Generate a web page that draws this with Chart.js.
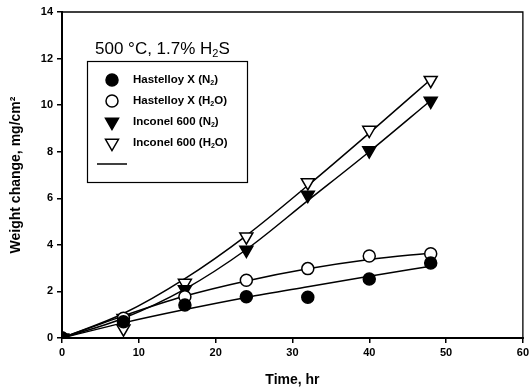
<!DOCTYPE html>
<html>
<head>
<meta charset="utf-8">
<script src="https://cdn.jsdelivr.net/npm/chart.js@4.4.0/dist/chart.umd.min.js"></script>
<style>
  html, body { margin: 0; padding: 0; background: #fff; }
  #wrap { width: 532px; height: 392px; }
</style>
</head>
<body>
<div id="wrap"><canvas id="chart" width="532" height="392"></canvas></div>
<script>
// tiempos de muestreo (hr) y ganancia de peso medida (mg/cm2)
const times = [0, 8, 16, 24, 32, 40, 48];
const hastN2 = [0, 0.7, 1.42, 1.77, 1.75, 2.53, 3.22];
const hastH2O = [0, 0.85, 1.77, 2.48, 2.98, 3.52, 3.62];
const incN2 = [0, 0.85, 2.08, 3.78, 6.14, 8.05, 10.18];
const incH2O = [0, 0.4, 2.36, 4.35, 6.68, 8.93, 11.07];

// curvas de ajuste
const fitHastN2 = [0, 0.65, 1.22, 1.74, 2.2, 2.65, 3.08];
const fitHastH2O = [0, 0.95, 1.8, 2.45, 2.97, 3.37, 3.65];
const fitIncN2 = [0, 0.85, 2.1, 3.8, 5.9, 8.0, 10.2];
const fitIncH2O = [0, 1.05, 2.55, 4.4, 6.55, 8.8, 11.1];

const seriesLabels = ["Hastelloy X (N₂)", "Hastelloy X (H₂O)", "Inconel 600 (N₂)", "Inconel 600 (H₂O)"];
const chartTitle = "500 °C, 1.7% H₂S";
const xTicks = [0, 10, 20, 30, 40, 50, 60];
const yTicks = [0, 2, 4, 6, 8, 10, 12, 14];

const FONT = "'Liberation Sans', Arial, sans-serif";

const pts = (ys) => times.map((t, i) => ({ x: t, y: ys[i] }));

// texto con subíndices (₂) dibujados más pequeños y desplazados
function drawRich(ctx, text, x, y, size, weight) {
    let cx = x;
    for (const ch of text) {
        if (ch === "₂") {
            const s = Math.round(size * 0.62);
            ctx.font = `${weight} ${s}px ${FONT}`;
            ctx.fillText("2", cx, y + size * 0.28);
            cx += ctx.measureText("2").width;
        } else {
            ctx.font = `${weight} ${size}px ${FONT}`;
            ctx.fillText(ch, cx, y);
            cx += ctx.measureText(ch).width;
        }
    }
}

const markerStyles = [
    { pointStyle: "circle", radius: 6, rotation: 0, fill: "#000" },
    { pointStyle: "circle", radius: 6, rotation: 0, fill: "#fff" },
    { pointStyle: "triangle", radius: 7.5, rotation: 180, fill: "#000" },
    { pointStyle: "triangle", radius: 7.5, rotation: 180, fill: "#fff" },
];

const framePlugin = {
    id: "frame",
    afterDraw(chart) {
        const { ctx, chartArea: a } = chart;
        ctx.save();
        ctx.strokeStyle = "#000";
        ctx.lineWidth = 1.3;
        ctx.beginPath();
        ctx.moveTo(a.left, a.top);
        ctx.lineTo(a.right, a.top);
        ctx.lineTo(a.right, a.bottom);
        ctx.stroke();
        ctx.lineWidth = 2;
        ctx.beginPath();
        ctx.moveTo(a.left, a.top - 1);
        ctx.lineTo(a.left, a.bottom);
        ctx.lineTo(a.right + 1, a.bottom);
        ctx.stroke();
        ctx.restore();
    }
};

const legendPlugin = {
    id: "insideLegend",
    afterDatasetsDraw(chart) {
        const ctx = chart.ctx;
        ctx.save();
        // título
        ctx.fillStyle = "#000";
        ctx.textBaseline = "middle";
        ctx.textAlign = "left";
        drawRich(ctx, chartTitle, 95, 49, 17, "normal");

        // caja de leyenda
        ctx.fillStyle = "#fff";
        ctx.fillRect(87.5, 61.5, 160, 121);
        ctx.strokeStyle = "#000";
        ctx.lineWidth = 1.2;
        ctx.strokeRect(87.5, 61.5, 160, 121);

        const rows = [80, 101, 122, 143];
        seriesLabels.forEach((label, i) => {
            const m = markerStyles[i];
            ctx.fillStyle = m.fill;
            ctx.strokeStyle = "#000";
            ctx.lineWidth = 1.5;
            Chart.helpers.drawPoint(ctx, {
                pointStyle: m.pointStyle, radius: m.radius, rotation: m.rotation, borderWidth: 1.5
            }, 112, rows[i]);
            ctx.fillStyle = "#000";
            drawRich(ctx, label, 133, rows[i], 11.5, "bold");
        });
        ctx.strokeStyle = "#000";
        ctx.lineWidth = 1.5;
        ctx.beginPath();
        ctx.moveTo(97, 164);
        ctx.lineTo(127, 164);
        ctx.stroke();
        ctx.restore();
    }
};

const markerSet = (label, ys, m) => ({
    label,
    data: pts(ys),
    showLine: false,
    pointStyle: m.pointStyle,
    pointRadius: m.radius,
    pointRotation: m.rotation,
    pointBackgroundColor: m.fill,
    pointBorderColor: "#000",
    pointBorderWidth: 1.5,
});

const fitSet = (ys) => ({
    label: "",
    data: pts(ys),
    showLine: true,
    borderColor: "#000",
    borderWidth: 1.5,
    pointRadius: 0,
    cubicInterpolationMode: "monotone",
});

new Chart(document.getElementById("chart"), {
    type: "scatter",
    data: {
        datasets: [
            markerSet(seriesLabels[0], hastN2, markerStyles[0]),
            markerSet(seriesLabels[1], hastH2O, markerStyles[1]),
            markerSet(seriesLabels[2], incN2, markerStyles[2]),
            markerSet(seriesLabels[3], incH2O, markerStyles[3]),
            fitSet(fitHastN2),
            fitSet(fitHastH2O),
            fitSet(fitIncN2),
            fitSet(fitIncH2O),
        ]
    },
    options: {
        responsive: false,
        animation: false,
        events: [],
        layout: { padding: { top: 12, right: 6, left: 0, bottom: 0 } },
        plugins: { legend: { display: false }, tooltip: { enabled: false } },
        scales: {
            x: {
                type: "linear",
                min: 0, max: 60,
                afterBuildTicks: (s) => { s.ticks = xTicks.map(v => ({ value: v })); },
                afterFit: (s) => { s.height = 54; },
                border: { display: false },
                grid: { drawOnChartArea: false, drawTicks: true, tickLength: 5, color: "#000", lineWidth: 1.5 },
                ticks: { color: "#000", padding: 3, font: { family: FONT, size: 11, weight: "bold" } },
                title: {
                    display: true, text: "Time, hr", color: "#000",
                    font: { family: FONT, size: 14, weight: "bold" },
                    padding: { top: 0, bottom: 3 }
                }
            },
            y: {
                type: "linear",
                min: 0, max: 14,
                afterBuildTicks: (s) => { s.ticks = yTicks.map(v => ({ value: v })); },
                afterFit: (s) => { s.width = 62; },
                border: { display: false },
                grid: { drawOnChartArea: false, drawTicks: true, tickLength: 5, color: "#000", lineWidth: 1.5 },
                ticks: { color: "#000", padding: 4, font: { family: FONT, size: 11, weight: "bold" } },
                title: {
                    display: true, text: "Weight change, mg/cm²", color: "#000",
                    font: { family: FONT, size: 14, weight: "bold" },
                    padding: { top: 8, bottom: 0 }
                }
            }
        }
    },
    plugins: [framePlugin, legendPlugin]
});
</script>
</body>
</html>
